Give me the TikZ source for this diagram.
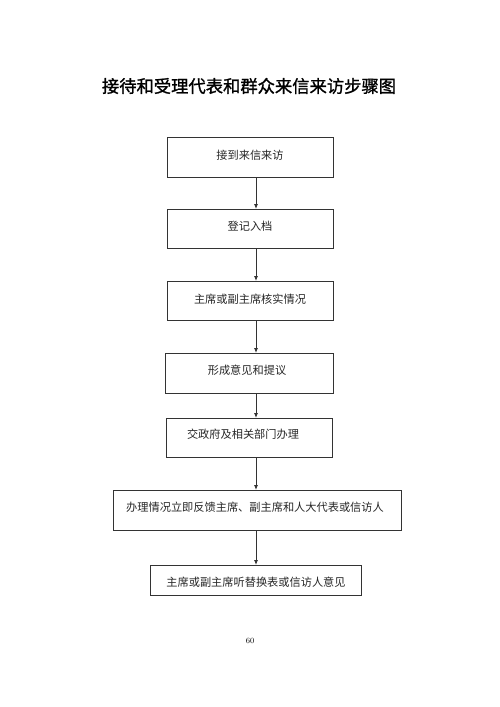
\documentclass[tikz,border=0pt]{standalone}
\usepackage{fontspec}
\newfontfamily\cjk{Noto Sans CJK SC}
\newfontfamily\cjktitle[FakeBold=1.2]{Noto Sans CJK SC}
\usetikzlibrary{arrows.meta}
\begin{document}
\begin{tikzpicture}[x=1pt,y=-1pt,
  stepbox/.style={draw=black!80,line width=0.9pt,rectangle,anchor=north west,inner sep=0pt},
  lbl/.style={font=\cjk\fontsize{11.2}{12}\selectfont,inner sep=0pt,text=black!85},
  conn/.style={draw=black!80,line width=0.8pt,-{Latex[length=5pt,width=4pt]}}]
\useasboundingbox (0,0) rectangle (500,707);
\node[font=\cjktitle\fontsize{17.3}{18}\selectfont,inner sep=0pt] (title) at (249,86) {接待和受理代表和群众来信来访步骤图};
% boxes
\node[stepbox,minimum width=166pt,minimum height=40pt] (b1) at (167,137) {};
\node[stepbox,minimum width=166pt,minimum height=39pt] (b2) at (167,209) {};
\node[stepbox,minimum width=166pt,minimum height=39pt] (b3) at (167,281) {};
\node[stepbox,minimum width=168pt,minimum height=40pt] (b4) at (165,353) {};
\node[stepbox,minimum width=166pt,minimum height=39pt] (b5) at (166,418) {};
\node[stepbox,minimum width=288pt,minimum height=40pt] (b6) at (113,490) {};
\node[stepbox,minimum width=211pt,minimum height=30pt] (b7) at (150,565) {};
% labels
\node[lbl] (t1) at (250,155) {接到来信来访};
\node[lbl] (t2) at (250,226) {登记入档};
\node[lbl] (t3) at (250,299) {主席或副主席核实情况};
\node[lbl] (t4) at (247,370) {形成意见和提议};
\node[lbl] (t5) at (243,434) {交政府及相关部门办理};
\node[lbl] (t6) at (255,507) {办理情况立即反馈主席、副主席和人大代表或信访人};
\node[lbl] (t7) at (256,582) {主席或副主席听替换表或信访人意见};
% connectors
\draw[conn] (b1.south -| 256,0) -- (b2.north -| 256,0);
\draw[conn] (b2.south -| 256,0) -- (b3.north -| 256,0);
\draw[conn] (b3.south -| 256,0) -- (b4.north -| 256,0);
\draw[conn] (b4.south -| 256,0) -- (b5.north -| 256,0);
\draw[conn] (b5.south -| 256,0) -- (b6.north -| 256,0);
\draw[conn] (b6.south -| 256,0) -- (b7.north -| 256,0);
\node[font=\fontsize{8}{9}\selectfont,inner sep=0pt] (page) at (250,641) {60};
\end{tikzpicture}
\end{document}
